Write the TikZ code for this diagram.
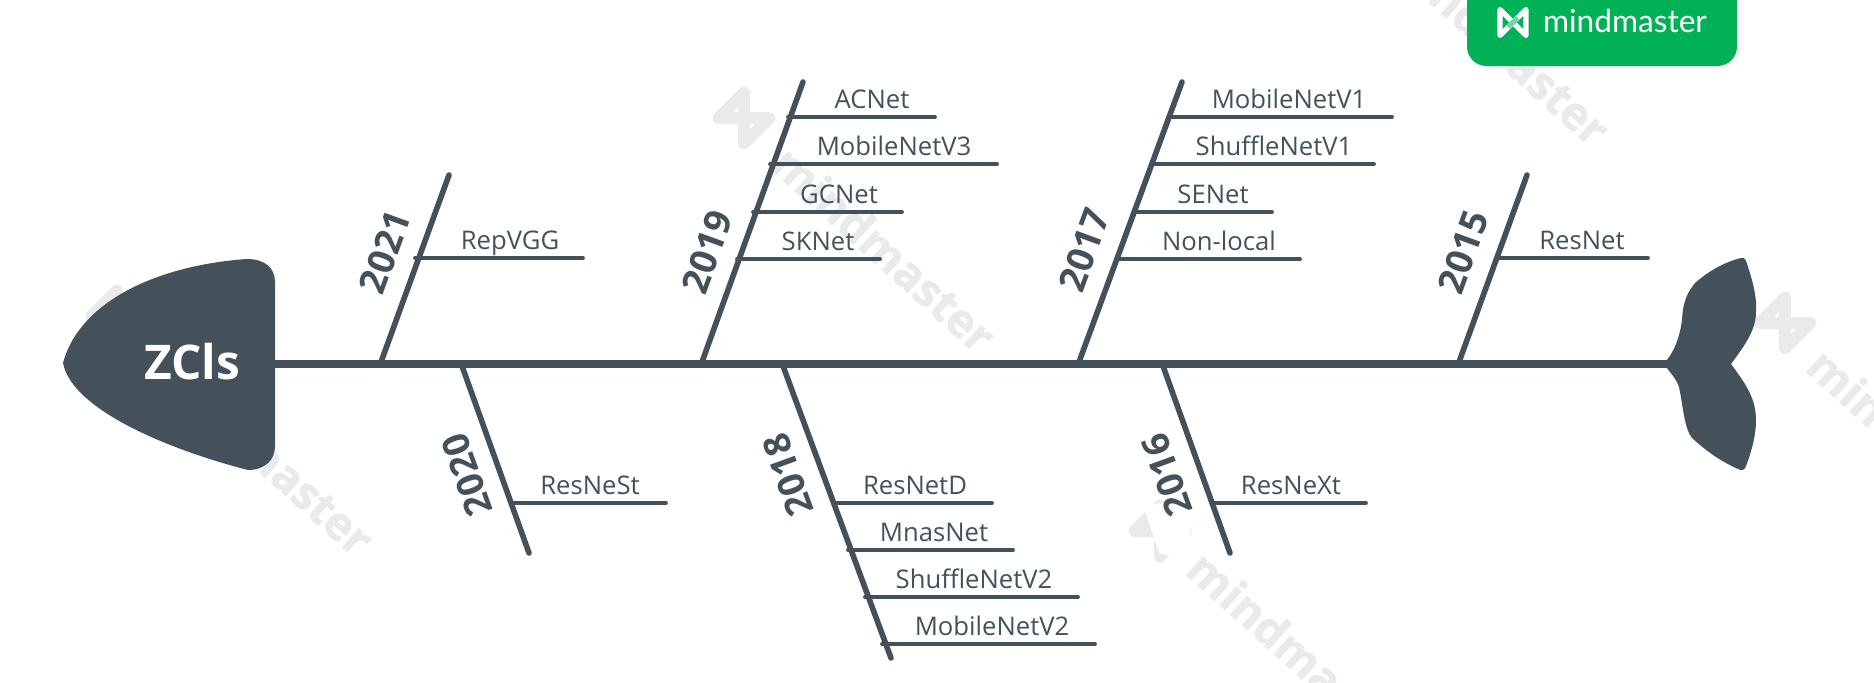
\documentclass[tikz,border=0pt]{standalone}
\usepackage{fontspec}
\setmainfont{Open Sans}
\newfontfamily\logofont{Lato}
\newfontfamily\markfont[BoldFeatures={FakeBold=1.5}]{Open Sans}
\definecolor{fishgray}{RGB}{68,81,91}
\definecolor{markgray}{RGB}{234,234,234}
\definecolor{logogreen}{RGB}{0,177,86}
\tikzset{
	spineline/.style={line width=8.2pt*0.569, color=fishgray},
	boneline/.style={line width=5.6pt*0.569, color=fishgray, line cap=round},
	twigline/.style={line width=3.8pt*0.569, color=fishgray, line cap=round},
	netlabel/.style={anchor=base, inner sep=0pt, color=fishgray, font=\fontsize{14.6}{17}\selectfont},
	yearlabel/.style={inner sep=0pt, color=fishgray, font=\fontsize{21}{25}\selectfont\bfseries},
	marktext/.style={anchor=west, inner sep=0pt, rotate=-42, color=markgray, font=\fontsize{26}{30}\markfont\bfseries},
	markicon/.style={line width=6.8pt, color=markgray}
}
\def\bowtie[#1](#2)(#3:#4){\draw[#1, line join=round, shift={(#2)}, rotate=#3] (-#4,#4) -- (-#4,-#4) -- (#4,#4) -- (#4,-#4) -- cycle;}
\def\bone(#1)(#2,#3)(#4,#5){\coordinate (#1a) at (#2,#3); \coordinate (#1b) at (#4,#5); \draw[boneline] (#1a) -- (#1b);}
\def\twig(#1)(#2:#3:#4)(#5)#6{\coordinate (#1l) at (#2,#4); \coordinate (#1r) at (#3,#4); \draw[twigline] (#1l) -- (#1r); \node[netlabel] (#1) at (#5,#4-9) {#6};}

\begin{document}
\begin{tikzpicture}[x=0.02cm, y=-0.02cm]
	%%%%% START %%%%%
	\useasboundingbox (0,0) rectangle (1874,683);
	\clip (0,0) rectangle (1874,683);

	% watermarks
	\bowtie[markicon](744,118)(-45:18);
	\node[marktext] (mark1) at (780,155) {mindmaster};
	\node[marktext] (mark2) at (1394,-52) {mindmaster};
	\bowtie[markicon](117,316)(-45:18);
	\node[marktext] (mark3) at (158,358) {mindmaster};
	\bowtie[markicon](1160,531)(-45:18);
	\fill[white] (1143,505) -- (1159,553) -- (1185,560) -- (1195,500) -- cycle;
	\node[marktext] (mark4) at (1195,560) {mindmaster};
	\bowtie[markicon](1785,323)(-45:18);
	\node[marktext] (mark5) at (1815,357) {mindmaster};

	% logo
	\fill[logogreen, rounded corners=11pt] (1467,-40) rectangle (1737,66);
	\bowtie[line width=3pt, color=white](1513,22.5)(0:13);
	\coordinate (icona) at (1508,27);
	\coordinate (iconb) at (1518,18);
	\draw[line width=3pt, color=logogreen!55!white] (icona) -- (iconb);
	\node[inner sep=0pt, color=white, font=\fontsize{18}{22}\logofont] (logo) at (1625,21) {mindmaster};

	% head and tail
	\fill[fishgray] (63,363) .. controls (80,300) and (160,265) .. (247,259)
		.. controls (265,259) and (275,268) .. (275,282) -- (275,446)
		.. controls (275,460) and (265,470) .. (248,470)
		.. controls (170,450) and (72,410) .. (63,363) -- cycle;
	\node[inner sep=0pt, color=white, font=\fontsize{27.2}{30}\selectfont\bfseries] (head) at (192,362) {ZCls};
	\fill[fishgray] (1667,360) .. controls (1676,348) and (1680,335) .. (1682,320)
		.. controls (1683,300) and (1688,292) .. (1695,283)
		.. controls (1710,270) and (1725,262) .. (1741,258)
		.. controls (1745,257) and (1746,260) .. (1748,267)
		.. controls (1754,285) and (1757,300) .. (1756,312)
		.. controls (1756,330) and (1745,345) .. (1731,364)
		.. controls (1745,383) and (1756,398) .. (1756,420)
		.. controls (1756,435) and (1752,450) .. (1746,466)
		.. controls (1745,470) and (1742,471) .. (1738,469)
		.. controls (1720,461) and (1705,450) .. (1692,438)
		.. controls (1684,428) and (1683,405) .. (1679,387)
		.. controls (1677,380) and (1672,375) .. (1667,368) -- cycle;
	\coordinate (spinea) at (275,364);
	\coordinate (spineb) at (1670,364);
	\draw[spineline] (spinea) -- (spineb);

	% upper bones
	\bone(b2021)(381,362)(449,175);
	\bone(b2019)(702,362)(803,82);
	\bone(b2017)(1079,362)(1182,82);
	\bone(b2015)(1459,362)(1527,175);
	% lower bones
	\bone(b2020)(462,366)(529,553);
	\bone(b2018)(783,366)(891,658);
	\bone(b2016)(1163,366)(1230,553);

	\node[yearlabel, rotate=70] (y2021) at (385,252) {2021};
	\node[yearlabel, rotate=70] (y2019) at (707,252) {2019};
	\node[yearlabel, rotate=70] (y2017) at (1084,250) {2017};
	\node[yearlabel, rotate=70] (y2015) at (1463,252) {2015};
	\node[yearlabel, rotate=110] (y2020) at (467,475) {2020};
	\node[yearlabel, rotate=110] (y2018) at (788,475) {2018};
	\node[yearlabel, rotate=110] (y2016) at (1167,475) {2016};

	\twig(repvgg)(415:583:258)(510){RepVGG}

	\twig(acnet)(788:935:117)(872){ACNet}
	\twig(mobilev3)(770:997:164)(894){MobileNetV3}
	\twig(gcnet)(753:902:212)(839){GCNet}
	\twig(sknet)(737:880:259)(818){SKNet}

	\twig(mobilev1)(1171:1392:117)(1289){MobileNetV1}
	\twig(shufflev1)(1151:1374:164)(1274){ShuffleNetV1}
	\twig(senet)(1135:1272:212)(1213){SENet}
	\twig(nonlocal)(1116:1300:259)(1219){Non-local}

	\twig(resnet)(1498:1648:258)(1582){ResNet}

	\twig(resnest)(514:666:503)(590){ResNeSt}

	\twig(resnetd)(835:992:503)(915){ResNetD}
	\twig(mnasnet)(848:1013:550)(934){MnasNet}
	\twig(shufflev2)(865:1078:597)(974){ShuffleNetV2}
	\twig(mobilev2)(882:1095:644)(992){MobileNetV2}

	\twig(resnext)(1213:1366:503)(1291){ResNeXt}
	%%%%% END %%%%%
\end{tikzpicture}
\end{document}
